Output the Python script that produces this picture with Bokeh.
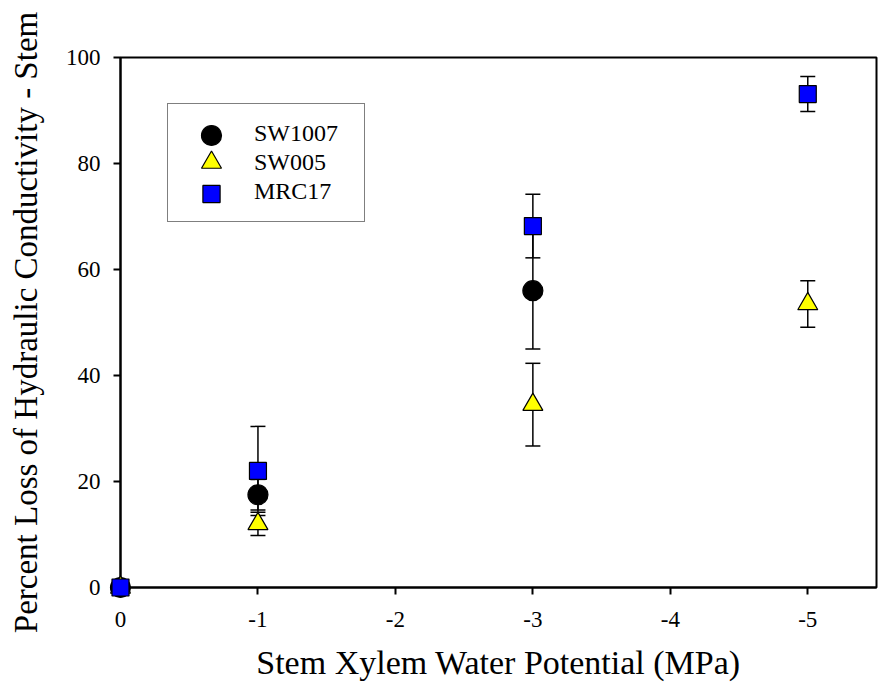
from bokeh.plotting import figure
from bokeh.models import (ColumnDataSource, Whisker, TeeHead, FixedTicker, Range1d,
                          Legend, LegendItem)
from bokeh.embed import file_html
from bokeh.resources import INLINE

# ---- data ----
x_sw1007 = [0, -1, -3]
y_sw1007 = [0, 17.5, 56.0]
e_sw1007 = [0, 2.9, 11.0]

x_sw005 = [0, -1, -3, -5]
y_sw005 = [0, 12.0, 34.5, 53.5]
e_sw005 = [0, 2.2, 7.8, 4.4]

x_mrc17 = [0, -1, -3, -5]
y_mrc17 = [0, 22.0, 68.2, 93.1]
e_mrc17 = [0, 8.4, 6.0, 3.3]

x_ticks = [0, -1, -2, -3, -4, -5]
y_ticks = [0, 20, 40, 60, 80, 100]

FONT = "Liberation Serif"

p = figure(width=885, height=693, output_backend="svg", toolbar_location=None,
           x_range=Range1d(0, -5.5), y_range=Range1d(0, 100),
           min_border_left=120, min_border_right=9, min_border_top=57,
           min_border_bottom=106)
p.grid.visible = False
p.outline_line_color = "black"
p.outline_line_width = 2
p.background_fill_color = "white"
p.border_fill_color = "white"

for ax in (p.xaxis[0], p.yaxis[0]):
    ax.axis_line_width = 2
    ax.axis_line_color = "black"
    ax.major_tick_line_width = 2
    ax.major_tick_line_color = "black"
    ax.major_tick_in = 0
    ax.major_tick_out = 7
    ax.minor_tick_line_color = None
    ax.major_label_text_font = FONT
    ax.major_label_text_font_size = "23px"
    ax.major_label_text_color = "black"
    ax.axis_label_text_font = FONT
    ax.axis_label_text_font_style = "normal"
    ax.axis_label_text_color = "black"

p.xaxis.ticker = FixedTicker(ticks=x_ticks)
p.yaxis.ticker = FixedTicker(ticks=y_ticks)
p.xaxis.major_label_overrides = {t: str(t) for t in x_ticks}
p.xaxis.axis_label = "Stem Xylem Water Potential (MPa)"
p.yaxis.axis_label = "Percent Loss of Hydraulic Conductivity - Stem"
p.xaxis.axis_label_text_font_size = "34px"
p.yaxis.axis_label_text_font_size = "33px"
p.xaxis.major_label_standoff = 17
p.yaxis.major_label_standoff = 13
p.xaxis.axis_label_standoff = 14
p.yaxis.axis_label_standoff = 19

series = [
    (x_sw1007, y_sw1007, e_sw1007, "circle", "black", 20, "SW1007"),
    (x_sw005, y_sw005, e_sw005, "triangle", "yellow", 20, "SW005"),
    (x_mrc17, y_mrc17, e_mrc17, "square", "blue", 17, "MRC17"),
]

for xs, ys, es, marker, color, size, name in series:
    src = ColumnDataSource(dict(
        x=xs, y=ys,
        lo=[y - e for y, e in zip(ys, es)],
        hi=[y + e for y, e in zip(ys, es)]))
    w = Whisker(source=src, base="x", lower="lo", upper="hi", dimension="height",
                line_color="black", line_width=1.5,
                lower_head=TeeHead(size=15, line_width=1.5, line_color="black"),
                upper_head=TeeHead(size=15, line_width=1.5, line_color="black"))
    p.add_layout(w)

renderers = []
for xs, ys, es, marker, color, size, name in series:
    r = p.scatter(xs, ys, marker=marker, size=size, fill_color=color,
                  line_color="black", line_width=1.2, level="annotation")
    renderers.append((name, r, marker, color, size))

# legend frame + labels (glyphs drawn by dummy transparent renderers)
label_items = []
for name, r, marker, color, size in renderers:
    dummy = p.scatter([], [], marker=marker, fill_alpha=0, line_alpha=0)
    label_items.append(LegendItem(label=name, renderers=[dummy]))
frame_legend = Legend(items=label_items, location=(47, 365), orientation="vertical",
                      glyph_width=60, glyph_height=29, spacing=0, padding=15,
                      label_standoff=11, label_width=95, label_height=25,
                      label_text_font=FONT, label_text_font_size="24px",
                      label_text_color="black",
                      border_line_color="black", border_line_width=1.5,
                      background_fill_color="white", background_fill_alpha=1.0,
                      margin=0)
p.add_layout(frame_legend)

# legend symbols at full size, one legend per row, no frame
row_bottoms = [427, 400, 372]
row_heights = [50, 50, 43]
for (name, r, marker, color, size), yb, gh in zip(renderers, row_bottoms, row_heights):
    lg = Legend(items=[LegendItem(label=name, renderers=[r])], location=(47, yb),
                glyph_width=88, glyph_height=gh, spacing=0, padding=0,
                label_standoff=0, label_width=0, label_height=0,
                label_text_alpha=0, label_text_font_size="1px",
                border_line_alpha=0, background_fill_alpha=0, margin=0)
    p.add_layout(lg)

open("out.html", "w").write(file_html(p, INLINE))
